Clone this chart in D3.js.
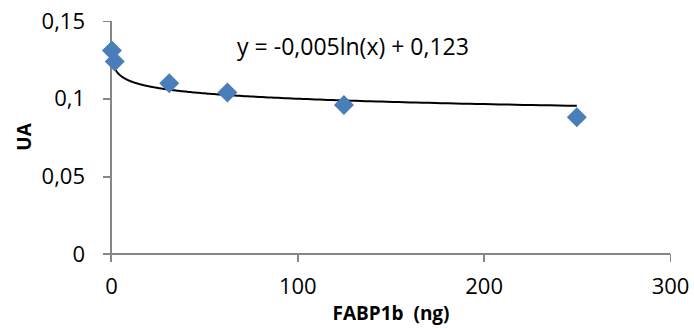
<!DOCTYPE html>
<html lang="en">

<head>
    <meta charset="UTF-8">
    <title>FABP1b</title>
    <style>
        body {
            margin: 0;
            background: #fff;
        }

        .chart text {
            font-family: "Open Sans", sans-serif;
            fill: #000;
        }

        .axis path,
        .axis line {
            fill: none;
            stroke: #868686;
            stroke-width: 1.5;
            shape-rendering: crispEdges;
        }

        .axis text {
            font-size: 22px;
        }
    </style>
</head>

<body>
    <svg class="chart"></svg>
    <script src="https://d3js.org/d3.v7.min.js"></script>
    <script>
        // data
        const amounts = [0.5, 2, 31.25, 62.5, 125, 250];
        const ua = [0.131, 0.124, 0.110, 0.104, 0.096, 0.088];
        const xTicks = [0, 100, 200, 300];
        const yTicks = [0, 0.05, 0.1, 0.15];
        // trendline as printed on the chart
        const slope = -0.005, intercept = 0.123;
        const equation = "y = -0,005ln(x) + 0,123";

        let margin = { top: 21, right: 24, bottom: 75, left: 111 },
            width = 694 - margin.left - margin.right,
            height = 329 - margin.top - margin.bottom;

        let x = d3.scaleLinear().domain([0, 300]).range([0, width]);
        let y = d3.scaleLinear().domain([0, 0.15]).range([height, 0]);

        let fmt = d => d3.format("")(d).replace(".", ",");

        let svg = d3.select(".chart")
            .attr("width", 694)
            .attr("height", 329);

        let chart = svg.append("g")
            .attr("transform", `translate(${margin.left},${margin.top})`);

        chart.append("g")
            .attr("class", "axis axis--x")
            .attr("transform", `translate(0,${height})`)
            .call(d3.axisBottom(x).tickValues(xTicks).tickFormat(fmt).tickSize(8).tickSizeOuter(0).tickPadding(16))
            .call(g => g.select(".domain").attr("d", `M-8,0H${width}`));

        chart.append("g")
            .attr("class", "axis axis--y")
            .call(d3.axisLeft(y).tickValues(yTicks).tickFormat(fmt).tickSize(8).tickSizeOuter(0).tickPadding(18))
            .call(g => g.select(".domain").attr("d", `M0,0V${height + 8}`))
            .call(g => g.selectAll(".tick").filter(d => d === 0).select("line").remove());

        chart.select(".axis--x").selectAll(".tick").filter(d => d === 0).select("line")
            .attr("y1", 0);

        // trendline
        let curve = d3.range(0, 401).map(i => {
            let xv = Math.exp(Math.log(0.08) + i / 400 * (Math.log(250) - Math.log(0.08)));
            return [xv, slope * Math.log(xv) + intercept];
        });

        chart.append("path")
            .datum(curve)
            .attr("fill", "none")
            .attr("stroke", "#000")
            .attr("stroke-width", 2)
            .attr("d", d3.line().x(d => x(d[0])).y(d => y(d[1])));

        chart.selectAll(".pt")
            .data(amounts.map((a, i) => [a, ua[i]]))
            .enter().append("path")
            .attr("class", "pt")
            .attr("fill", "#4a7ebb")
            .attr("transform", d => `translate(${x(d[0])},${y(d[1])})`)
            .attr("d", "M0,-10L10,0L0,10L-10,0Z");

        chart.append("text")
            .attr("x", 353 - margin.left)
            .attr("y", 55 - margin.top)
            .attr("text-anchor", "middle")
            .style("font-size", "23px")
            .text(equation);

        svg.append("text")
            .attr("x", 391)
            .attr("y", 320)
            .attr("text-anchor", "middle")
            .style("font-size", "19px")
            .style("font-weight", "bold")
            .style("white-space", "pre")
            .text("FABP1b  (ng)");

        svg.append("text")
            .attr("transform", "translate(31,137) rotate(-90)")
            .attr("text-anchor", "middle")
            .style("font-size", "19px")
            .style("font-weight", "bold")
            .text("UA");
    </script>
</body>

</html>
